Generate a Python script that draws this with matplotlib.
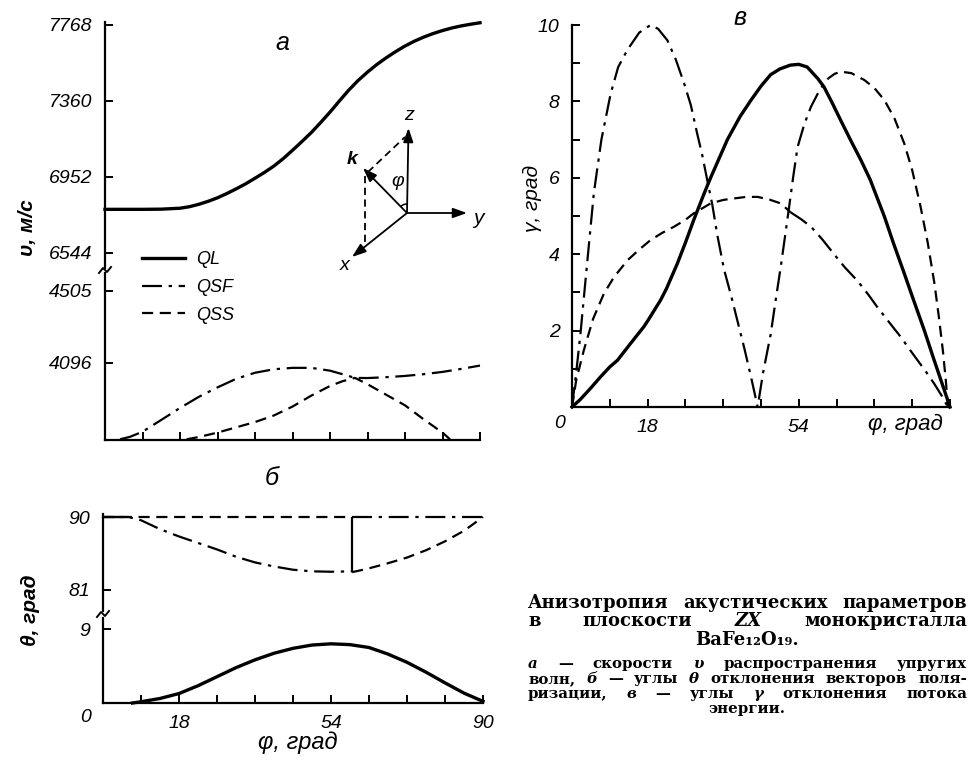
import matplotlib
matplotlib.use('Agg')
import matplotlib.pyplot as plt
from matplotlib import font_manager
from matplotlib.lines import Line2D
from matplotlib.patches import Arc

W, H = 968, 762

# ---------------- panel a: wave velocities v, m/s
phi_a_ql = [0, 4.5, 9, 13.5, 18, 20.25, 22.5, 24.75, 27, 29.25, 31.5, 33.75, 36,
            38.25, 40.5, 42.75, 45, 47.25, 49.5, 51.75, 54, 56.25, 58.5, 60.75,
            63, 65.25, 67.5, 69.75, 72, 74.25, 76.5, 78.75, 81, 83.25, 85.5,
            87.75, 90]
v_ql = [6778, 6778, 6778, 6779, 6784, 6792, 6805, 6821, 6840, 6863, 6888, 6915,
        6945, 6976, 7010, 7050, 7095, 7142, 7190, 7244, 7300, 7360, 7418, 7470,
        7515, 7556, 7592, 7625, 7655, 7681, 7703, 7722, 7738, 7752, 7763, 7772,
        7780]
phi_a_qsf = [3.6, 6, 9, 13.5, 18, 22.5, 27, 31.5, 36, 40.5, 45, 49.5, 54, 57,
             60, 63, 67.5, 72, 76.5, 81, 85.5, 90]
v_qsf = [3662, 3676, 3705, 3772, 3840, 3903, 3957, 4006, 4040, 4060, 4068, 4068,
         4052, 4032, 4011, 4010, 4015, 4022, 4032, 4045, 4062, 4081]
phi_a_qss = [19.6, 22.5, 27, 31.5, 36, 40.5, 45, 49.5, 54, 57, 60, 63, 67.5, 72,
             76.5, 81, 82.8]
v_qss = [3662, 3675, 3700, 3730, 3760, 3797, 3848, 3910, 3965, 3992, 4011, 3975,
         3915, 3855, 3775, 3700, 3662]
v_ticks_high = [6544, 6952, 7360, 7768]
v_ticks_low = [4096, 4505]

# ---------------- panel б: polarisation angles theta, deg
phi_b_qsf = [0, 6, 9, 13.5, 18, 22.5, 27, 31.5, 36, 40.5, 45, 49.5, 54, 59, 59, 90]
th_qsf = [90, 90, 89.6, 88.5, 87.6, 86.8, 86.0, 85.1, 84.4, 83.9, 83.5, 83.3,
          83.25, 83.3, 90, 90]
phi_b_qss = [0, 59, 59, 62.5, 67.5, 72, 76.5, 81, 85.5, 90]
th_qss = [90, 90, 83.2, 83.6, 84.3, 85.0, 85.9, 87.0, 88.3, 90]
phi_b_ql = [7, 9, 13.5, 18, 22.5, 27, 31.5, 36, 40.5, 45, 49.5, 54, 58.5, 63,
            67.5, 72, 76.5, 81, 85.5, 90]
th_ql = [0, 0.15, 0.55, 1.15, 2.1, 3.2, 4.3, 5.25, 6.05, 6.65, 7.05, 7.2, 7.1,
         6.75, 5.95, 4.95, 3.75, 2.45, 1.2, 0.2]
phi_jump = 59
th_ticks_high = [81, 90]
th_ticks_low = [9]
phi_ticks = [0, 9, 18, 27, 36, 45, 54, 63, 72, 81, 90]
phi_labels_b = ['', '', '18', '', '', '', '54', '', '', '', '90']

# ---------------- panel в: energy flux angles gamma, deg
phi_g_ql = [0, 2, 4.5, 6.8, 9, 10.8, 13.5, 15.5, 17.1, 18, 21.1, 22.5, 25.1, 27,
            29, 31.5, 33, 35, 37, 40, 42.6, 45, 47.3, 49.5, 52, 54, 56, 58.5, 60,
            62, 64, 66.5, 68.8, 71, 74.4, 76.5, 79.1, 81, 83.9, 86, 88, 90]
g_ql = [0, 0.2, 0.5, 0.79, 1.05, 1.22, 1.6, 1.88, 2.1, 2.25, 2.8, 3.1, 3.76, 4.3,
        4.9, 5.6, 6.0, 6.5, 7.0, 7.6, 8.03, 8.4, 8.7, 8.85, 8.95, 8.97, 8.9, 8.6,
        8.38, 7.95, 7.5, 6.95, 6.46, 5.95, 4.98, 4.3, 3.5, 2.9, 2.0, 1.3, 0.65, 0]
phi_g_qsf1 = [0, 1, 2, 3.2, 5.2, 7, 9.2, 11, 13.2, 16, 18.7, 20.5, 22.7, 24.7,
              26.7, 28.3, 29.8, 31, 32.2, 33.4, 34.6, 36.2, 37.8, 39.4, 41, 42.6,
              44.2, 45.5, 47.3, 48.5, 49.7, 50.7, 51.7, 52.7, 53.7, 55.3, 56.9,
              58.5, 60, 61]
g_qsf1 = [0, 0.9, 1.9, 3.3, 5.6, 7.0, 8.2, 8.9, 9.35, 9.8, 10.0, 9.9, 9.6, 9.1,
          8.47, 7.9, 7.16, 6.6, 5.94, 5.3, 4.5, 3.6, 2.95, 2.25, 1.55, 0.8, 0.0,
          0.9, 1.9, 2.8, 3.67, 4.45, 5.24, 6.05, 6.8, 7.4, 7.86, 8.2, 8.47, 8.6]
phi_g_qsf2 = [52, 54.5, 56.9, 59.5, 62.4, 65, 68, 70.5, 72.8, 75.5, 78.3, 80.3,
              82.3, 84.3, 86.3, 88, 89.5]
g_qsf2 = [5.1, 4.92, 4.72, 4.4, 4.0, 3.65, 3.3, 2.95, 2.6, 2.22, 1.83, 1.52,
          1.22, 0.92, 0.6, 0.3, 0]
phi_g_qss1 = [0, 1, 2.8, 5, 7.6, 10, 13.2, 16, 18.7, 21.5, 24.3, 27, 29, 31, 33,
              36, 38.6, 41.5, 44.2, 47, 49.7, 52]
g_qss1 = [0, 0.7, 1.48, 2.3, 2.97, 3.4, 3.84, 4.12, 4.37, 4.56, 4.72, 4.9, 5.07,
          5.2, 5.33, 5.42, 5.46, 5.5, 5.5, 5.43, 5.33, 5.1]
phi_g_qss2 = [61, 62.5, 64, 66.5, 69.6, 72, 74.4, 76.8, 79.1, 81, 83, 84.7, 86.3,
              87.3, 88.3, 89, 89.5]
g_qss2 = [8.6, 8.72, 8.78, 8.74, 8.56, 8.35, 8.03, 7.55, 6.9, 6.2, 5.24, 4.3,
          3.23, 2.4, 1.48, 0.7, 0]
g_ticks = [0, 2, 4, 6, 8, 10]
g_labels = ['', '2', '4', '6', '8', '10']
phi_labels_g = ['', '', '18', '', '', '', '54', '', '', '', '']

# ---------------- styles
avail = {f.name for f in font_manager.fontManager.ttflist}
hand = 'Liberation Sans' if 'Liberation Sans' in avail else 'DejaVu Sans'
plt.rcParams['font.family'] = [hand, 'DejaVu Sans']
plt.rcParams['font.style'] = 'italic'
plt.rcParams['axes.linewidth'] = 1.6

DD = (0, (9, 3, 1.5, 3))
DS = (0, (5, 3))
lw_ql = 2.4
lw_s = 1.6
tick_fs = 14


def px_axes(x0, y0, x1, y1):
    return fig.add_axes([x0 / W, 1 - y1 / H, (x1 - x0) / W, (y1 - y0) / H])


def style(ax, bottom=False):
    for s in ['top', 'right']:
        ax.spines[s].set_visible(False)
    ax.spines['bottom'].set_visible(bottom)
    ax.tick_params(direction='in', length=6, width=1.4, labelsize=tick_fs,
                   pad=9)
    ax.tick_params(which='minor', direction='in', length=6, width=1.4)
    if not bottom:
        ax.tick_params(axis='x', bottom=False, labelbottom=False)
    ax.set_xlim(0, 90)
    ax.patch.set_alpha(0)


fig = plt.figure(figsize=(W / 100, H / 100), dpi=100)

# ---- panel a
a_hi = px_axes(105, 22, 480, 268)
a_lo = px_axes(105, 273, 480, 440)
style(a_hi)
style(a_lo, bottom=True)
a_hi.set_ylim(6463, 7784)
a_lo.set_ylim(3658, 4607)
a_hi.set_yticks(v_ticks_high)
a_lo.set_yticks(v_ticks_low)
a_lo.set_xticks(phi_ticks)
a_lo.set_xticklabels([])
a_hi.plot(phi_a_ql, v_ql, 'k-', lw=lw_ql, clip_on=False)
a_lo.plot(phi_a_qsf, v_qsf, color='k', ls=DD, lw=lw_s, clip_on=False)
a_lo.plot(phi_a_qss, v_qss, color='k', ls=DS, lw=lw_s, clip_on=False)

# ---- panel б
b_hi = px_axes(103, 514, 483, 611)
b_lo = px_axes(103, 618, 483, 703)
style(b_hi)
style(b_lo, bottom=True)
b_hi.set_ylim(78.41, 90.37)
b_lo.set_ylim(0, 10.34)
b_hi.set_yticks(th_ticks_high)
b_lo.set_yticks(th_ticks_low)
b_lo.set_xticks(phi_ticks)
b_lo.set_xticklabels(phi_labels_b)
b_hi.plot(phi_b_qsf[:-2], th_qsf[:-2], color='k', ls=DD, lw=lw_s, clip_on=False)
b_hi.plot(phi_b_qsf[-2:], th_qsf[-2:], color='k', ls=DD, lw=lw_s, clip_on=False)
b_hi.plot(phi_b_qss[:2], th_qss[:2], color='k', ls=DS, lw=lw_s, clip_on=False)
b_hi.plot(phi_b_qss[2:], th_qss[2:], color='k', ls=DS, lw=lw_s, clip_on=False)
b_hi.plot(phi_b_qsf[:2], th_qsf[:2], 'k-', lw=lw_s, clip_on=False)
b_hi.vlines(phi_jump, th_qss[2], th_qss[1], color='k', lw=lw_s)
b_lo.plot(phi_b_ql, th_ql, 'k-', lw=lw_ql, clip_on=False)

# ---- panel в
g = px_axes(572, 25, 950, 407)
style(g, bottom=True)
g.set_ylim(0, 10)
g.set_yticks(g_ticks)
g.set_yticklabels(g_labels)
g.set_yticks(range(1, 10, 2), minor=True)
g.set_xticks(phi_ticks)
g.set_xticklabels(phi_labels_g)
g.plot(phi_g_ql, g_ql, 'k-', lw=lw_ql, clip_on=False)
g.plot(phi_g_qsf1, g_qsf1, color='k', ls=DD, lw=lw_s, clip_on=False)
g.plot(phi_g_qsf2, g_qsf2, color='k', ls=DD, lw=lw_s, clip_on=False)
g.plot(phi_g_qss1, g_qss1, color='k', ls=DS, lw=lw_s, clip_on=False)
g.plot(phi_g_qss2, g_qss2, color='k', ls=DS, lw=lw_s, clip_on=False)

# ---- legend of panel a
handles = [Line2D([], [], color='k', lw=lw_ql),
           Line2D([], [], color='k', lw=lw_s, ls=DD),
           Line2D([], [], color='k', lw=lw_s, ls=DS)]
fig.legend(handles, ['QL', 'QSF', 'QSS'], loc='upper left',
           bbox_to_anchor=(142 / W, 1 - 251 / H), frameon=False, fontsize=13,
           borderpad=0, borderaxespad=0, handlelength=2.4, handletextpad=0.6,
           labelspacing=0.6)

# ---- overlay in pixel coordinates for annotations
ov = fig.add_axes([0, 0, 1, 1])
ov.set_xlim(0, W)
ov.set_ylim(H, 0)
ov.axis('off')
ov.patch.set_alpha(0)

# axis break marks
for bx, by in [(105, 270), (103, 614)]:
    ov.plot([bx - 6, bx - 2, bx + 2, bx + 6], [by + 3, by - 2, by + 2, by - 3],
            'k-', lw=1.4)

# panel letters and axis titles
ov.text(282, 43, 'a', fontsize=18, ha='center', va='center')
ov.text(272, 478, 'б', fontsize=18, ha='center', va='center')
ov.text(740, 18, 'в', fontsize=18, ha='center', va='center')
ov.text(28, 228, 'υ, м/с', fontsize=15, weight='bold', rotation=90,
        ha='center', va='center')
ov.text(30, 610, 'θ, град', fontsize=15, weight='bold', rotation=90,
        ha='center', va='center')
ov.text(532, 198, 'γ, град', fontsize=15, rotation=90, ha='center', va='center')
ov.text(298, 742, 'φ, град', fontsize=17, ha='center', va='center')
ov.text(905, 424, 'φ, град', fontsize=16, ha='center', va='center')
ov.text(86, 717, '0', fontsize=tick_fs, ha='center', va='center')
ov.text(560, 424, '0', fontsize=tick_fs, ha='center', va='center')

# coordinate sketch
arr = dict(arrowstyle='-|>,head_length=0.7,head_width=0.25', lw=1.3,
           color='k', shrinkA=0, shrinkB=0, mutation_scale=12)
o = (407, 213)
for tip in [(408.5, 128), (467, 213), (352, 257), (363, 168)]:
    ov.annotate('', xy=tip, xytext=o, arrowprops=arr)
ov.plot([368, 405], [172, 137], 'k', ls=(0, (4, 2.5)), lw=1.3)
ov.plot([365, 365], [176, 247], 'k', ls=(0, (4, 2.5)), lw=1.3)
ov.add_patch(Arc(o, 18, 18, theta1=225, theta2=270, lw=1.1, color='k'))
ov.text(409, 115, 'z', fontsize=14, ha='center', va='center')
ov.text(478, 219, 'y', fontsize=15, ha='center', va='center')
ov.text(345, 266, 'x', fontsize=14, ha='center', va='center')
ov.text(352, 160, 'k', fontsize=14, weight='bold', ha='center', va='center')
ov.text(398, 181, 'φ', fontsize=14, ha='center', va='center')

# ---- caption (justified lines)
serif = ['DejaVu Serif']
renderer = fig.canvas.get_renderer()


def justify(tokens, y, x0, x1, size):
    ts = []
    for tok in tokens:
        txt, it = tok if isinstance(tok, tuple) else (tok, False)
        ts.append(ov.text(0, y, txt, fontsize=size, family=serif, weight='bold',
                          style='italic' if it else 'normal', va='center'))
    widths = [t.get_window_extent(renderer).width for t in ts]
    gap = (x1 - x0 - sum(widths)) / (len(ts) - 1)
    x = x0
    for t, w in zip(ts, widths):
        t.set_x(x)
        x += w + gap


cx0, cx1 = 528, 967
justify(['Анизотропия', 'акустических', 'параметров'], 603, cx0, cx1, 13)
justify(['в', 'плоскости', ('ZX', True), 'монокристалла'], 621, cx0, cx1, 13)
ov.text(747, 640, 'BaFe₁₂O₁₉.', fontsize=13, family=serif, weight='bold',
        style='normal', ha='center', va='center')
justify([('а', True), '—', 'скорости', ('υ', True), 'распространения', 'упругих'],
        664, cx0, cx1, 10.8)
justify(['волн,', ('б', True), '—', 'углы', ('θ', True), 'отклонения',
         'векторов', 'поля-'], 679, cx0, cx1, 10.8)
justify(['ризации,', ('в', True), '—', 'углы', ('γ', True), 'отклонения',
         'потока'], 694, cx0, cx1, 10.8)
ov.text(747, 709, 'энергии.', fontsize=10.8, family=serif, weight='bold',
        style='normal', ha='center', va='center')

fig.savefig('out.png', dpi=100)
